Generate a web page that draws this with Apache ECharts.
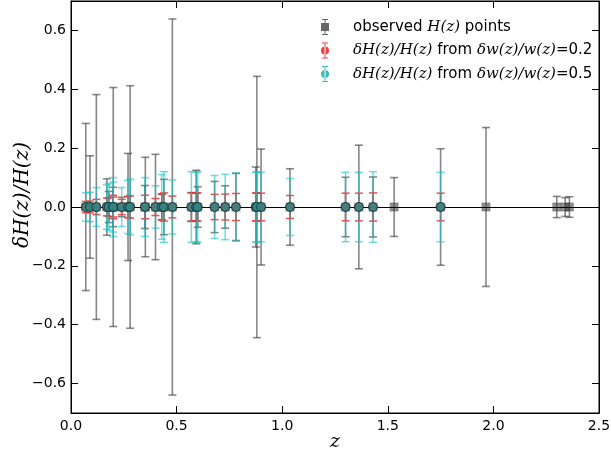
<!DOCTYPE html>
<html>
<head>
<meta charset="utf-8">
<script src="https://cdn.jsdelivr.net/npm/echarts@6/dist/echarts.min.js"></script>
<style>html,body{margin:0;padding:0;background:#fff}#c{width:611px;height:456px}</style>
</head>
<body>
<div id="c"></div>
<script>
// observed H(z) points: redshift and relative error sigma_H / H
const obsZ   = [0.07,0.09,0.12,0.17,0.179,0.199,0.2,0.24,0.27,0.28,0.35,0.352,0.4,0.43,0.44,0.48,0.57,0.593,0.6,0.68,0.73,0.781,0.875,0.88,0.9,1.037,1.3,1.363,1.43,1.53,1.75,1.965,2.3,2.34,2.36];
const obsErr = [0.284,0.174,0.382,0.096,0.053,0.067,0.406,0.033,0.182,0.412,0.073,0.169,0.179,0.043,0.094,0.639,0.049,0.125,0.069,0.087,0.072,0.114,0.136,0.444,0.197,0.130,0.101,0.210,0.102,0.100,0.198,0.270,0.036,0.032,0.035];
// predicted dH/H points
const predZ  = [0.07,0.09,0.12,0.17,0.179,0.199,0.2,0.24,0.27,0.28,0.35,0.4,0.43,0.44,0.48,0.57,0.593,0.6,0.68,0.73,0.781,0.875,0.88,0.9,1.037,1.3,1.363,1.43,1.75];
const err02  = [0.019,0.020,0.026,0.030,0.032,0.040,0.034,0.026,0.036,0.038,0.040,0.029,0.044,0.048,0.037,0.048,0.047,0.048,0.043,0.044,0.046,0.047,0.048,0.047,0.039,0.047,0.047,0.048,0.047];
const err05  = [0.048,0.050,0.066,0.075,0.080,0.100,0.085,0.066,0.090,0.095,0.100,0.072,0.110,0.120,0.092,0.120,0.118,0.120,0.107,0.111,0.116,0.118,0.120,0.118,0.097,0.118,0.118,0.120,0.118];
const yTicks = [-0.6,-0.4,-0.2,0,0.2,0.4,0.6];
const xTicks = [0,0.5,1,1.5,2,2.5];
const names = ['observed', 'red', 'cyan'];

const chart = echarts.init(document.getElementById('c'));

function errorBars(zs, es, color, width, cap) {
  return {
    type: 'custom',
    data: zs.map((z, i) => [z, es[i]]),
    encode: {x: 0, y: 1},
    renderItem: function (params, api) {
      const x = api.value(0), e = api.value(1);
      const t = api.coord([x, e]), b = api.coord([x, -e]);
      const st = {stroke: color, lineWidth: width};
      return {type: 'group', children: [
        {type: 'line', shape: {x1: t[0], y1: t[1], x2: b[0], y2: b[1]}, style: st},
        {type: 'line', shape: {x1: t[0] - cap, y1: t[1], x2: t[0] + cap, y2: t[1]}, style: st},
        {type: 'line', shape: {x1: b[0] - cap, y1: b[1], x2: b[0] + cap, y2: b[1]}, style: st}
      ]};
    }
  };
}

const fmtY = v => (v < 0 ? '\u2212' : '') + Math.abs(v).toFixed(1);
const iconSq = 'path://M3,0h6v1h-6z M5.5,0h1v16h-1z M3,15h6v1h-6z M2,4h8v8h-8z';
const iconCi = 'path://M3,0h6v1h-6z M5.5,0h1v16h-1z M3,15h6v1h-6z M2,8a4,4 0 1,0 8,0a4,4 0 1,0 -8,0z';

const sans = 'DejaVu Sans';
const serif = 'DejaVu Serif';

const gBar = Object.assign(errorBars(obsZ, obsErr, 'rgba(55,55,55,0.6)', 1.6, 4), {
  name: names[0], z: 2,
  markLine: {silent: true, symbol: 'none', label: {show: false},
    lineStyle: {color: '#000', width: 1.2, type: 'solid'}, data: [{yAxis: 0}], animation: false}
});
const gPts = {type: 'scatter', name: names[0], z: 3, data: obsZ.map(z => [z, 0]), symbol: 'rect', symbolSize: 8,
  itemStyle: {color: 'rgba(60,60,60,0.7)', borderColor: 'rgba(60,60,60,0.35)', borderWidth: 1.5}};
const rBar = Object.assign(errorBars(predZ, err02, 'rgba(255,30,30,0.8)', 1.5, 4), {name: names[1], z: 4});
const rPts = {type: 'scatter', name: names[1], z: 5, data: predZ.map(z => [z, 0]), symbol: 'circle', symbolSize: 8,
  itemStyle: {color: '#f04040', borderColor: '#222', borderWidth: 1}};
const cBar = Object.assign(errorBars(predZ, err05, 'rgba(20,195,195,0.6)', 1.5, 4), {name: names[2], z: 6});
const cPts = {type: 'scatter', name: names[2], z: 7, data: predZ.map(z => [z, 0]), symbol: 'circle', symbolSize: 9,
  itemStyle: {color: '#2f8585', borderColor: '#123030', borderWidth: 1}};

chart.setOption({
  animation: false,
  backgroundColor: '#fff',
  grid: {left: 71, right: 12, top: 1, bottom: 43, show: true, borderColor: '#000', borderWidth: 1,
    containLabel: false, outerBoundsMode: 'none'},
  legend: {
    orient: 'vertical', left: 316, top: 14, itemWidth: 12, itemHeight: 16, itemGap: 7.5,
    selectedMode: false,
    data: [
      {name: names[0], icon: iconSq, itemStyle: {color: '#666'}},
      {name: names[1], icon: iconCi, itemStyle: {color: '#f04040'}},
      {name: names[2], icon: iconCi, itemStyle: {color: '#3cbcbc'}}
    ],
    formatter: function (n) {
      if (n === names[0]) return '{s|observed }{m|H(z)}{s| points}';
      if (n === names[1]) return '{m|\u03B4H(z)/H(z)}{s| from }{m|\u03B4w(z)/w(z)}{s|=0.2}';
      return '{m|\u03B4H(z)/H(z)}{s| from }{m|\u03B4w(z)/w(z)}{s|=0.5}';
    },
    textStyle: {
      padding: [0, 0, 0, 17],
      rich: {
        s: {fontFamily: sans, fontSize: 15, color: '#000'},
        m: {fontFamily: serif, fontStyle: 'italic', fontSize: 15, color: '#000'}
      }
    }
  },
  xAxis: [{
    type: 'value', min: 0, max: 2.5, interval: 0.5, position: 'bottom',
    name: 'z', nameLocation: 'middle', nameGap: 20, nameMoveOverlap: false,
    nameTextStyle: {fontFamily: serif, fontStyle: 'italic', fontSize: 19, color: '#000', verticalAlign: 'top'},
    axisLine: {onZero: false, lineStyle: {color: '#000', width: 1}},
    axisTick: {inside: true, length: 7, lineStyle: {color: '#000'}},
    axisLabel: {fontFamily: sans, fontSize: 14, color: '#000', margin: 6,
      customValues: xTicks, formatter: v => v.toFixed(1)},
    splitLine: {show: false}
  }, {
    type: 'value', min: 0, max: 2.5, interval: 0.5, position: 'top',
    axisLine: {onZero: false, lineStyle: {color: '#000'}},
    axisTick: {inside: true, length: 7, lineStyle: {color: '#000'}},
    axisLabel: {show: false}, splitLine: {show: false}
  }],
  yAxis: [{
    type: 'value', min: -0.7, max: 0.7, position: 'left',
    name: '\u03B4H(z)/H(z)', nameLocation: 'middle', nameGap: 38, nameRotate: 90, nameMoveOverlap: false,
    nameTextStyle: {fontFamily: serif, fontStyle: 'italic', fontSize: 20, color: '#000', padding: [0, 0, 0, 24]},
    axisLine: {onZero: false, lineStyle: {color: '#000'}},
    axisTick: {inside: true, length: 7, customValues: yTicks, lineStyle: {color: '#000'}},
    axisLabel: {fontFamily: sans, fontSize: 14, color: '#000', margin: 5,
      customValues: yTicks, formatter: fmtY},
    splitLine: {show: false}
  }, {
    type: 'value', min: -0.7, max: 0.7, position: 'right',
    axisLine: {onZero: false, lineStyle: {color: '#000'}},
    axisTick: {inside: true, length: 7, customValues: yTicks, lineStyle: {color: '#000'}},
    axisLabel: {show: false}, splitLine: {show: false}
  }],
  series: [gBar, gPts, rBar, rPts, cBar, cPts]
});
</script>
</body>
</html>
